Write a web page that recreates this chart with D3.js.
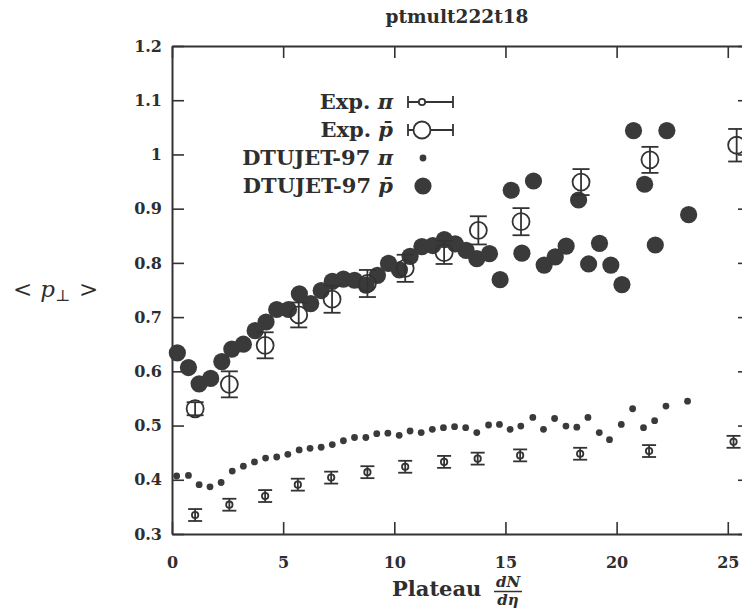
<!DOCTYPE html>
<html>
<head>
<meta charset="utf-8">
<script src="https://cdn.jsdelivr.net/npm/d3@7"></script>
<style>
  body { margin: 0; background: #fff; }
  text { font-family: "DejaVu Serif", serif; fill: #2e2e2e; }
</style>
</head>
<body>
<svg id="chart" width="742" height="613"></svg>
<script>
const ink = '#333'

const chartTitle = 'ptmult222t18'
const xTicks = [0, 5, 10, 15, 20, 25]
const xTickLabels = ['0', '5', '10', '15', '20', '25']
const yTicks = [0.3, 0.4, 0.5, 0.6, 0.7, 0.8, 0.9, 1.0, 1.1, 1.2]
const yTickLabels = ['0.3', '0.4', '0.5', '0.6', '0.7', '0.8', '0.9', '1', '1.1', '1.2']

const legendNames = ['Exp.', 'Exp.', 'DTUJET-97', 'DTUJET-97']
const legendSymbols = ['\u03c0', 'p\u0304', '\u03c0', 'p\u0304']

// DTUJET-97 pi (small dots)
const piSimX = [0.21, 0.74, 1.22, 1.71, 2.21, 2.71, 3.21, 3.71, 4.21, 4.71, 5.21, 5.72, 6.21, 6.71, 7.21, 7.71,
  8.21, 8.72, 9.21, 9.71, 10.22, 10.71, 11.21, 11.71, 12.21, 12.71, 13.21, 13.71, 14.24, 14.73, 15.21, 15.69,
  16.23, 16.71, 17.21, 17.72, 18.21, 18.71, 19.22, 19.68, 20.21, 20.72, 21.21, 21.71, 22.22, 23.19]
const piSimY = [0.407, 0.408, 0.391, 0.387, 0.395, 0.416, 0.425, 0.433, 0.440, 0.442, 0.447, 0.455, 0.458, 0.460, 0.465, 0.472,
  0.478, 0.478, 0.485, 0.486, 0.482, 0.490, 0.487, 0.493, 0.496, 0.498, 0.496, 0.487, 0.501, 0.502, 0.493, 0.499,
  0.515, 0.493, 0.513, 0.499, 0.497, 0.515, 0.487, 0.474, 0.502, 0.531, 0.496, 0.509, 0.536, 0.545]

// DTUJET-97 pbar (big dots)
const pbarSimX = [0.24, 0.74, 1.22, 1.74, 2.24, 2.69, 3.21, 3.74, 4.23, 4.71, 5.24, 5.73, 6.24, 6.71, 7.21, 7.71,
  8.21, 8.73, 9.24, 9.74, 10.23, 10.71, 11.24, 11.73, 12.25, 12.74, 13.23, 13.71, 14.28, 14.76, 15.26, 15.74,
  16.26, 16.74, 17.24, 17.73, 18.29, 18.74, 19.23, 19.74, 20.24, 20.76, 21.26, 21.74, 22.26, 23.24]
const pbarSimY = [0.634, 0.607, 0.577, 0.587, 0.618, 0.641, 0.650, 0.675, 0.691, 0.714, 0.714, 0.743, 0.725, 0.749, 0.766, 0.770,
  0.768, 0.759, 0.777, 0.799, 0.787, 0.812, 0.830, 0.832, 0.843, 0.835, 0.823, 0.808, 0.817, 0.769, 0.934, 0.818,
  0.951, 0.796, 0.811, 0.831, 0.916, 0.798, 0.836, 0.796, 0.760, 1.044, 0.945, 0.833, 1.044, 0.889]

// experiment pi
const piExpX = [1.04, 2.58, 4.19, 5.66, 7.16, 8.79, 10.49, 12.24, 13.75, 15.66, 18.36, 21.46, 25.26]
const piExpY = [0.335, 0.354, 0.370, 0.391, 0.404, 0.414, 0.424, 0.433, 0.439, 0.445, 0.448, 0.453, 0.470]
const piExpErr = [0.011, 0.011, 0.011, 0.011, 0.011, 0.011, 0.011, 0.011, 0.011, 0.011, 0.011, 0.011, 0.011]

// experiment pbar
const pbarExpX = [1.04, 2.58, 4.19, 5.70, 7.20, 8.79, 10.49, 12.24, 13.78, 15.70, 18.40, 21.50, 25.40]
const pbarExpY = [0.531, 0.576, 0.648, 0.704, 0.733, 0.762, 0.790, 0.819, 0.860, 0.876, 0.949, 0.990, 1.017]
const pbarExpErr = [0.012, 0.024, 0.024, 0.023, 0.025, 0.025, 0.025, 0.021, 0.026, 0.025, 0.024, 0.024, 0.03]

const svg = d3.select('#chart')

const x = d3.scaleLinear().domain([0, 26]).range([172, 750])
const y = d3.scaleLinear().domain([0.3, 1.2]).range([534, 46])

svg.append('text')
    .attr('x', 457)
    .attr('y', 23)
    .attr('text-anchor', 'middle')
    .attr('font-size', 18.5)
    .attr('font-weight', 'bold')
    .text(chartTitle)

// frame with inward ticks on all four sides
function styleAxis(g) {
  g.select('.domain').attr('stroke', ink).attr('stroke-width', 2)
  g.selectAll('.tick line').attr('stroke', ink).attr('stroke-width', 1.6)
  g.selectAll('.tick text')
      .attr('font-family', '"DejaVu Serif", serif')
      .attr('font-size', 16)
      .attr('font-weight', 'bold')
      .attr('fill', '#2e2e2e')
}

svg.append('g')
    .attr('transform', 'translate(0,' + y.range()[0] + ')')
    .call(d3.axisBottom(x).tickValues(xTicks).tickFormat((d, i) => xTickLabels[i])
      .tickSize(-12).tickSizeOuter(0).tickPadding(23))
    .call(styleAxis)

svg.append('g')
    .attr('transform', 'translate(0,' + y.range()[1] + ')')
    .call(d3.axisTop(x).tickValues(xTicks).tickFormat('').tickSize(-12).tickSizeOuter(0))
    .call(styleAxis)

svg.append('g')
    .attr('transform', 'translate(' + x.range()[0] + ',0)')
    .call(d3.axisLeft(y).tickValues(yTicks).tickFormat((d, i) => yTickLabels[i])
      .tickSize(-12).tickSizeOuter(0).tickPadding(10))
    .call(styleAxis)

svg.append('g')
    .attr('transform', 'translate(' + x.range()[1] + ',0)')
    .call(d3.axisRight(y).tickValues(yTicks).tickFormat('').tickSize(-12).tickSizeOuter(0))
    .call(styleAxis)

// axis titles
const yLabel = svg.append('text')
    .attr('x', 13)
    .attr('y', 297)
    .attr('font-size', 23)
yLabel.append('tspan').text('<')
yLabel.append('tspan').attr('dx', 8).attr('font-style', 'italic').text('p')
yLabel.append('tspan').attr('dy', 4).attr('font-size', 16).text('\u22a5')
yLabel.append('tspan').attr('dx', 9).attr('dy', -4).text('>')

svg.append('text')
    .attr('x', 392)
    .attr('y', 596)
    .attr('font-size', 21)
    .attr('font-weight', 'bold')
    .text('Plateau')

svg.append('text')
    .attr('x', 508).attr('y', 587)
    .attr('text-anchor', 'middle')
    .attr('font-size', 15).attr('font-weight', 'bold').attr('font-style', 'italic')
    .text('dN')
svg.append('line')
    .attr('x1', 494).attr('x2', 522).attr('y1', 591.5).attr('y2', 591.5)
    .attr('stroke', ink).attr('stroke-width', 1.5)
svg.append('text')
    .attr('x', 508).attr('y', 605)
    .attr('text-anchor', 'middle')
    .attr('font-size', 15).attr('font-weight', 'bold').attr('font-style', 'italic')
    .text('d\u03b7')

// data marks
function drawDots(xs, ys, r) {
  svg.append('g')
    .selectAll('circle')
    .data(xs.map((d, i) => ({ x: d, y: ys[i] })))
    .enter().append('circle')
      .attr('cx', d => x(d.x))
      .attr('cy', d => y(d.y))
      .attr('r', r)
      .attr('fill', '#3a3a3a')
}

function drawErrorPoints(xs, ys, errs, r, cap) {
  let g = svg.append('g')
      .attr('stroke', ink)
      .attr('stroke-width', 1.8)
      .attr('fill', 'none')
  let pts = g.selectAll('g')
    .data(xs.map((d, i) => ({ x: d, y: ys[i], e: errs[i] })))
    .enter().append('g')
  pts.append('line')
      .attr('x1', d => x(d.x)).attr('x2', d => x(d.x))
      .attr('y1', d => y(d.y - d.e)).attr('y2', d => y(d.y + d.e))
  pts.append('line')
      .attr('x1', d => x(d.x) - cap).attr('x2', d => x(d.x) + cap)
      .attr('y1', d => y(d.y - d.e)).attr('y2', d => y(d.y - d.e))
  pts.append('line')
      .attr('x1', d => x(d.x) - cap).attr('x2', d => x(d.x) + cap)
      .attr('y1', d => y(d.y + d.e)).attr('y2', d => y(d.y + d.e))
  pts.append('circle')
      .attr('cx', d => x(d.x))
      .attr('cy', d => y(d.y))
      .attr('r', r)
}

drawDots(piSimX, piSimY, 3.4)
drawDots(pbarSimX, pbarSimY, 8.6)
drawErrorPoints(piExpX, piExpY, piExpErr, 3.2, 7)
drawErrorPoints(pbarExpX, pbarExpY, pbarExpErr, 8.5, 8.5)

// legend
const rowY = [102, 130, 158, 186]
legendNames.forEach(function(name, i) {
  let t = svg.append('text')
      .attr('x', 393)
      .attr('y', rowY[i] + 7)
      .attr('text-anchor', 'end')
      .attr('font-size', 21)
      .attr('font-weight', 'bold')
  t.append('tspan').text(name + ' ')
  t.append('tspan').attr('font-style', 'italic').text(legendSymbols[i])
})

for (let i = 0; i < 2; i++) {
  let g = svg.append('g').attr('stroke', ink).attr('stroke-width', 1.8).attr('fill', 'none')
  g.append('line').attr('x1', 408).attr('x2', 453).attr('y1', rowY[i]).attr('y2', rowY[i])
  g.append('line').attr('x1', 408).attr('x2', 408).attr('y1', rowY[i] - 6).attr('y2', rowY[i] + 6)
  g.append('line').attr('x1', 453).attr('x2', 453).attr('y1', rowY[i] - 6).attr('y2', rowY[i] + 6)
  g.append('circle').attr('cx', 422).attr('cy', rowY[i]).attr('r', i === 0 ? 3.2 : 8.5)
    .attr('fill', '#fff')
}
svg.append('circle').attr('cx', 423).attr('cy', rowY[2]).attr('r', 3.4).attr('fill', '#3a3a3a')
svg.append('circle').attr('cx', 423).attr('cy', rowY[3]).attr('r', 8.6).attr('fill', '#3a3a3a')
</script>
</body>
</html>
